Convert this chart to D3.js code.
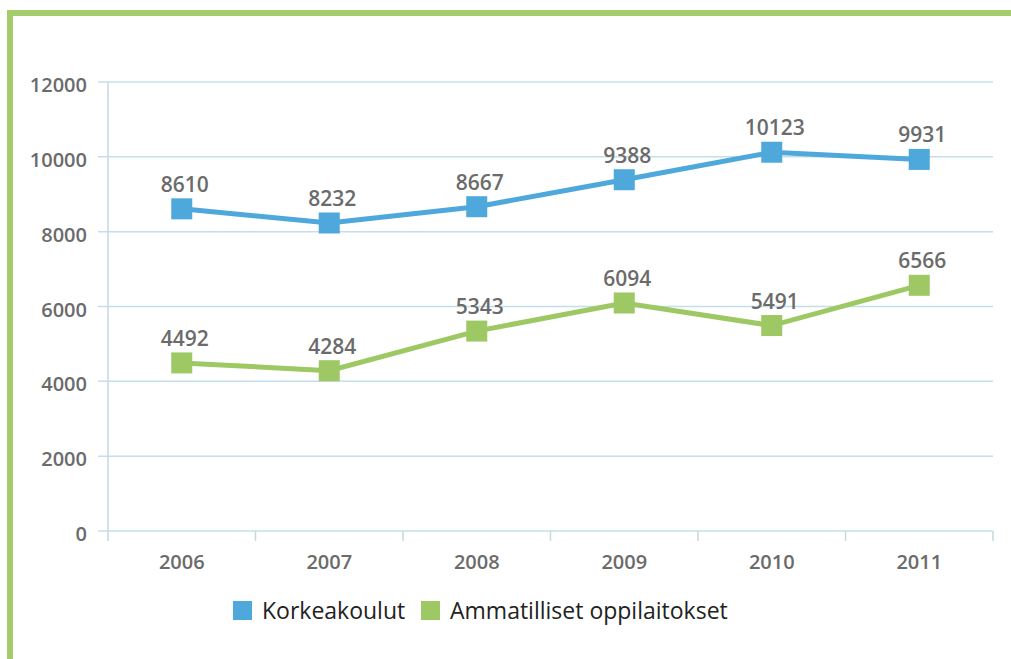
<!DOCTYPE html>
<meta charset="utf-8">
<script src="https://d3js.org/d3.v7.min.js"></script>
<style>
  body { margin: 0; background: #fff; }
</style>
<div id="my_dataviz"></div>
<script>

// data
var years = ["2006", "2007", "2008", "2009", "2010", "2011"];
var korkeakoulut = [8610, 8232, 8667, 9388, 10123, 9931];
var ammatilliset = [4492, 4284, 5343, 6094, 5491, 6566];
var yTicks = [0, 2000, 4000, 6000, 8000, 10000, 12000];
var seriesNames = ["Korkeakoulut", "Ammatilliset oppilaitokset"];
var seriesColors = ["#4ea8dc", "#9dc863"];

var W = 1011, H = 659;
var margin = {top: 82, right: 18, bottom: 128, left: 108},
    width = W - margin.left - margin.right,
    height = H - margin.top - margin.bottom;

var root = d3.select("#my_dataviz")
  .append("svg")
    .attr("width", W)
    .attr("height", H);

// green frame
root.append("rect").attr("x", 7).attr("y", 10).attr("width", W - 7).attr("height", 6).attr("fill", "#a5cb6c");
root.append("rect").attr("x", 7).attr("y", 10).attr("width", 6).attr("height", H - 10).attr("fill", "#a5cb6c");

var svg = root.append("g")
    .attr("transform", "translate(" + margin.left + "," + margin.top + ")");

var x = d3.scaleBand()
    .domain(years)
    .range([0, width]);

var y = d3.scaleLinear()
    .domain([0, 12000])
    .range([height, 0]);

var labelFont = "'Open Sans', sans-serif";

// gridlines
svg.append("g")
  .selectAll("line")
  .data(yTicks)
  .enter().append("line")
    .attr("x1", -10)
    .attr("x2", width)
    .attr("y1", function(d) { return y(d) })
    .attr("y2", function(d) { return y(d) })
    .attr("stroke", "#c3dfe9")
    .attr("stroke-width", 1.5);

// y axis line
svg.append("line")
  .attr("x1", 0).attr("x2", 0)
  .attr("y1", 0).attr("y2", height + 10)
  .attr("stroke", "#c6d9e0")
  .attr("stroke-width", 1.5);

// y labels
svg.append("g")
  .selectAll("text")
  .data(yTicks)
  .enter().append("text")
    .attr("x", -21)
    .attr("y", function(d) { return y(d) + 10 })
    .attr("text-anchor", "end")
    .style("font-family", labelFont)
    .style("font-weight", 600)
    .style("font-size", "20px")
    .style("fill", "#6b6b6b")
    .text(function(d) { return d });

// x ticks at band edges
svg.append("g")
  .selectAll("line")
  .data(years.slice(1).concat(["end"]))
  .enter().append("line")
    .attr("x1", function(d, i) { return x.step() * (i + 1) })
    .attr("x2", function(d, i) { return x.step() * (i + 1) })
    .attr("y1", height)
    .attr("y2", height + 10)
    .attr("stroke", "#c6d9e0")
    .attr("stroke-width", 1.5);

// x labels
svg.append("g")
  .selectAll("text")
  .data(years)
  .enter().append("text")
    .attr("x", function(d) { return x(d) + x.bandwidth() / 2 })
    .attr("y", height + 38)
    .attr("text-anchor", "middle")
    .style("font-family", labelFont)
    .style("font-weight", 600)
    .style("font-size", "20px")
    .style("fill", "#6b6b6b")
    .text(function(d) { return d });

// lines, markers, value labels
[korkeakoulut, ammatilliset].forEach(function(values, s) {
  var pts = values.map(function(v, i) { return {year: years[i], value: v} });

  svg.append("path")
    .datum(pts)
    .attr("d", d3.line()
      .x(function(d) { return x(d.year) + x.bandwidth() / 2 })
      .y(function(d) { return y(d.value) })
    )
    .attr("stroke", seriesColors[s])
    .style("stroke-width", 5)
    .style("fill", "none");

  svg.append("g")
    .selectAll("rect")
    .data(pts)
    .enter().append("rect")
      .attr("x", function(d) { return x(d.year) + x.bandwidth() / 2 - 10.5 })
      .attr("y", function(d) { return y(d.value) - 10.5 })
      .attr("width", 21)
      .attr("height", 21)
      .attr("fill", seriesColors[s]);

  svg.append("g")
    .selectAll("text")
    .data(pts)
    .enter().append("text")
      .attr("x", function(d) { return x(d.year) + x.bandwidth() / 2 + 3 })
      .attr("y", function(d) { return y(d.value) - 17 })
      .attr("text-anchor", "middle")
      .style("font-family", labelFont)
      .style("font-weight", 600)
      .style("font-size", "21px")
      .style("fill", "#6b6b6b")
      .text(function(d) { return d.value });
});

// legend
var legendX = [233, 421];
var legend = root.append("g");
seriesNames.forEach(function(name, i) {
  legend.append("rect")
    .attr("x", legendX[i])
    .attr("y", 601)
    .attr("width", 19)
    .attr("height", 19)
    .attr("fill", seriesColors[i]);
  legend.append("text")
    .attr("x", legendX[i] + 29)
    .attr("y", 619)
    .style("font-family", labelFont)
    .style("font-size", "23px")
    .style("fill", "#222")
    .text(name);
});

</script>
